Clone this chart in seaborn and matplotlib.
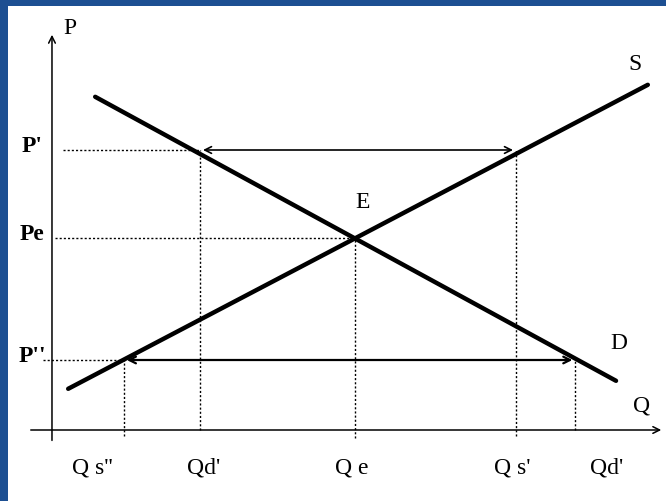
import matplotlib
matplotlib.use("Agg")
import matplotlib.pyplot as plt
import seaborn as sns
import pandas as pd

# --- DATA (Q on x, P on y) ---
supply_q = [0.27, 9.93]
supply_p = [1.03, 8.63]
demand_q = [0.72, 9.40]
demand_p = [8.33, 1.23]

p_high = 7.0      # P'
p_eq = 4.8        # Pe
p_low = 1.75      # P''
q_eq = 5.05       # Qe
qd_high = 2.47    # Qd'' (demand at P')
qs_high = 7.73    # Qs'  (supply at P')
qs_low = 1.20     # Qs'' (supply at P'')
qd_low = 8.72     # Qd'  (demand at P'')

q_label_pos = [0.67, 2.52, 5.0, 7.67, 9.25]
q_tick_labels = ["Q s''", "Qd'", "Q e", "Q s'", "Qd'"]
p_tick_pos = [p_high, p_eq, p_low]
p_tick_labels = ["P'", "Pe", "P''"]

curves = pd.concat([
    pd.DataFrame({"Q": supply_q, "P": supply_p, "curve": "S"}),
    pd.DataFrame({"Q": demand_q, "P": demand_p, "curve": "D"}),
])

sns.set_theme(style="white")
plt.rcParams["font.family"] = ["Liberation Serif", "DejaVu Serif"]
plt.rcParams["text.color"] = "black"

fig = plt.figure(figsize=(6.66, 5.02), dpi=100, facecolor="#1d4f92")
ax = fig.add_axes([8 / 666, 0, 658 / 666, 1 - 7 / 502])
ax.set_facecolor("white")
ax.set_xlim(-0.733, 10.233)
ax.set_ylim(-1.775, 10.6)
for s in ax.spines.values():
    s.set_visible(False)
ax.set_xticks([])
ax.set_yticks([])

# supply and demand
sns.lineplot(data=curves, x="Q", y="P", units="curve", estimator=None,
             color="black", lw=3.2, ax=ax, legend=False)

# axes with arrows
ax.annotate("", xy=(10.2, 0), xytext=(-0.4, 0),
            arrowprops=dict(arrowstyle="->", lw=1.1, color="black"))
ax.annotate("", xy=(0, 9.95), xytext=(0, -0.33),
            arrowprops=dict(arrowstyle="->", lw=1.1, color="black"))

# dotted guides
dot = dict(color="black", lw=1.0, ls=(0, (1.5, 1.5)))
ax.plot([0.18, qd_high], [p_high, p_high], **dot)
ax.plot([0.05, q_eq], [p_eq, p_eq], **dot)
ax.plot([-0.15, qs_low], [p_low, p_low], **dot)
ax.plot([qd_high, qd_high], [0, p_high], **dot)
ax.plot([qs_low, qs_low], [-0.15, p_low], **dot)
ax.plot([q_eq, q_eq], [-0.2, p_eq], **dot)
ax.plot([qs_high, qs_high], [-0.15, p_high], **dot)
ax.plot([qd_low, qd_low], [0, p_low], **dot)

# shortage / surplus arrows
ax.annotate("", xy=(qd_high, p_high), xytext=(qs_high, p_high),
            arrowprops=dict(arrowstyle="<->", lw=1.2, color="black"))
ax.annotate("", xy=(qs_low, p_low), xytext=(qd_low, p_low),
            arrowprops=dict(arrowstyle="<->", lw=1.6, color="black"))

# labels
fs = 17
for q, lab in zip(q_label_pos, q_tick_labels):
    ax.text(q, -0.93, lab, ha="center", va="center", fontsize=fs)
for p, lab in zip(p_tick_pos, p_tick_labels):
    ax.text(-0.33, p + 0.12, lab, ha="center", va="center", fontsize=fs,
            fontweight="bold")
ax.text(0.3, 10.05, "P", ha="center", va="center", fontsize=fs)
ax.text(9.83, 0.63, "Q", ha="center", va="center", fontsize=fs)
ax.text(5.18, 5.7, "E", ha="center", va="center", fontsize=fs)
ax.text(9.72, 9.15, "S", ha="center", va="center", fontsize=fs)
ax.text(9.45, 2.18, "D", ha="center", va="center", fontsize=fs)

fig.savefig("out.png", dpi=100, facecolor=fig.get_facecolor())
